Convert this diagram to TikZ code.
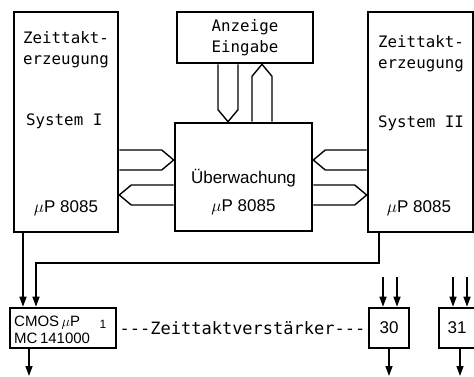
\documentclass[tikz,border=0pt]{standalone}
\usepackage{fontspec}
\usetikzlibrary{calc,positioning,arrows.meta}
\newfontfamily\monofnt{DejaVu Sans Mono}
\newfontfamily\helfnt{Liberation Sans}

% breiter Bus-Pfeil von #1 nach #2
\newcommand{\busarrow}[2]{%
	\coordinate (bs) at (#1);
	\coordinate (be) at (#2);
	\coordinate (bt) at ($(be)!12pt!(bs)$);
	\draw [bus] ($(bs)!10pt!90:(be)$) -- ($(bt)!10pt!90:(be)$) -- (be)
		-- ($(bt)!10pt!-90:(be)$) -- ($(bs)!10pt!-90:(be)$);
}

\begin{document}
\begin{tikzpicture}[x=1pt,y=1pt,
	blk/.style={draw,line width=2.6pt,inner sep=0pt},
	sig/.style={line width=1.4pt,-{Triangle[length=10pt,width=7pt]}},
	bus/.style={line width=1.4pt,line join=miter},
	mono/.style={font=\monofnt\fontsize{15.8}{21}\selectfont,inner sep=0pt},
	sans/.style={font=\helfnt\fontsize{17}{20}\selectfont,inner sep=0pt},
	cmtxt/.style={font=\helfnt\fontsize{15}{17}\selectfont,inner sep=0pt}]
	\useasboundingbox (0,0) rectangle (474,376);
	% Bloecke
	\node [blk, minimum width=104pt, minimum height=220pt] (sys1) at (66,254) {};
	\node [blk, minimum width=105pt, minimum height=220pt] (sys2) at (420.5,254) {};
	\node [blk, mono, minimum width=136pt, minimum height=51pt, align=center] (anz) at (245,338.5) {Anzeige\\Eingabe};
	\node [blk, minimum width=137pt, minimum height=108pt] (ueb) at (243.5,199) {};
	\node [blk, minimum width=106pt, minimum height=40pt] (cmos) at (63,48) {};
	\node [blk, sans, minimum width=40pt, minimum height=40pt] (b30) at (389,48) {30};
	\node [blk, sans, minimum width=36pt, minimum height=40pt] (b31) at (457,48) {31};
	% Beschriftung
	\node [mono, anchor=base west] (z1) at (23,333) {Zeittakt-};
	\node [mono, anchor=base west] (e1) at (23,312) {erzeugung};
	\node [mono, anchor=base west] (s1) at (26,251) {System I};
	\node [sans, anchor=base] (p1) at (66,164) {$\mu$P 8085};
	\node [mono, anchor=base west] (z2) at (378,329) {Zeittakt-};
	\node [mono, anchor=base west] (e2) at (378,308) {erzeugung};
	\node [mono, anchor=base west] (s2) at (378,249) {System II};
	\node [sans, anchor=base] (p2) at (419,164) {$\mu$P 8085};
	\node [sans, anchor=base] (ut) at (243.5,193) {Überwachung};
	\node [sans, anchor=base] (up) at (243.5,165) {$\mu$P 8085};
	\node [cmtxt, anchor=base west] (c1) at (14,50) {CMOS\,$\mu$P};
	\node [cmtxt, anchor=base west] (c2) at (14,33) {MC\,141000};
	\node [cmtxt, font=\helfnt\fontsize{12}{14}\selectfont, anchor=base] (n1) at (103,48) {1};
	\node [mono, font=\monofnt\fontsize{17}{20}\selectfont] (zv) at ($(cmos.east)!.5!(b30.west)$)
		{-\kern0pt-\kern0pt-Zeittaktverstärker-\kern0pt-\kern0pt-};
	% Busse
	\busarrow{sys1.east |- 0,216}{ueb.west |- 0,216}
	\busarrow{ueb.west |- 0,181}{sys1.east |- 0,181}
	\busarrow{sys2.west |- 0,216}{ueb.east |- 0,216}
	\busarrow{ueb.east |- 0,181}{sys2.west |- 0,181}
	\busarrow{anz.south -| 228,0}{ueb.north -| 228,0}
	\busarrow{ueb.north -| 262,0}{anz.south -| 262,0}
	% Signale
	\coordinate (knick) at (36,113);
	\draw [sig] (sys1.south -| 23,0) -- (cmos.north -| 23,0);
	\draw [sig] (sys2.south -| 379,0) |- (knick) -- (cmos.north -| knick);
	\coordinate (aus1) at (29,0);
	\coordinate (aus30) at (389,0);
	\coordinate (aus31) at (460,0);
	\draw [sig] (cmos.south -| aus1) -- (aus1);
	\draw [sig] (b30.south -| aus30) -- (aus30);
	\draw [sig] (b31.south -| aus31) -- (aus31);
	\coordinate (ein30a) at (383,99);
	\coordinate (ein30b) at (397,99);
	\coordinate (ein31a) at (453,99);
	\coordinate (ein31b) at (467,99);
	\draw [sig] (ein30a) -- (ein30a |- b30.north);
	\draw [sig] (ein30b) -- (ein30b |- b30.north);
	\draw [sig] (ein31a) -- (ein31a |- b31.north);
	\draw [sig] (ein31b) -- (ein31b |- b31.north);
\end{tikzpicture}
\end{document}
